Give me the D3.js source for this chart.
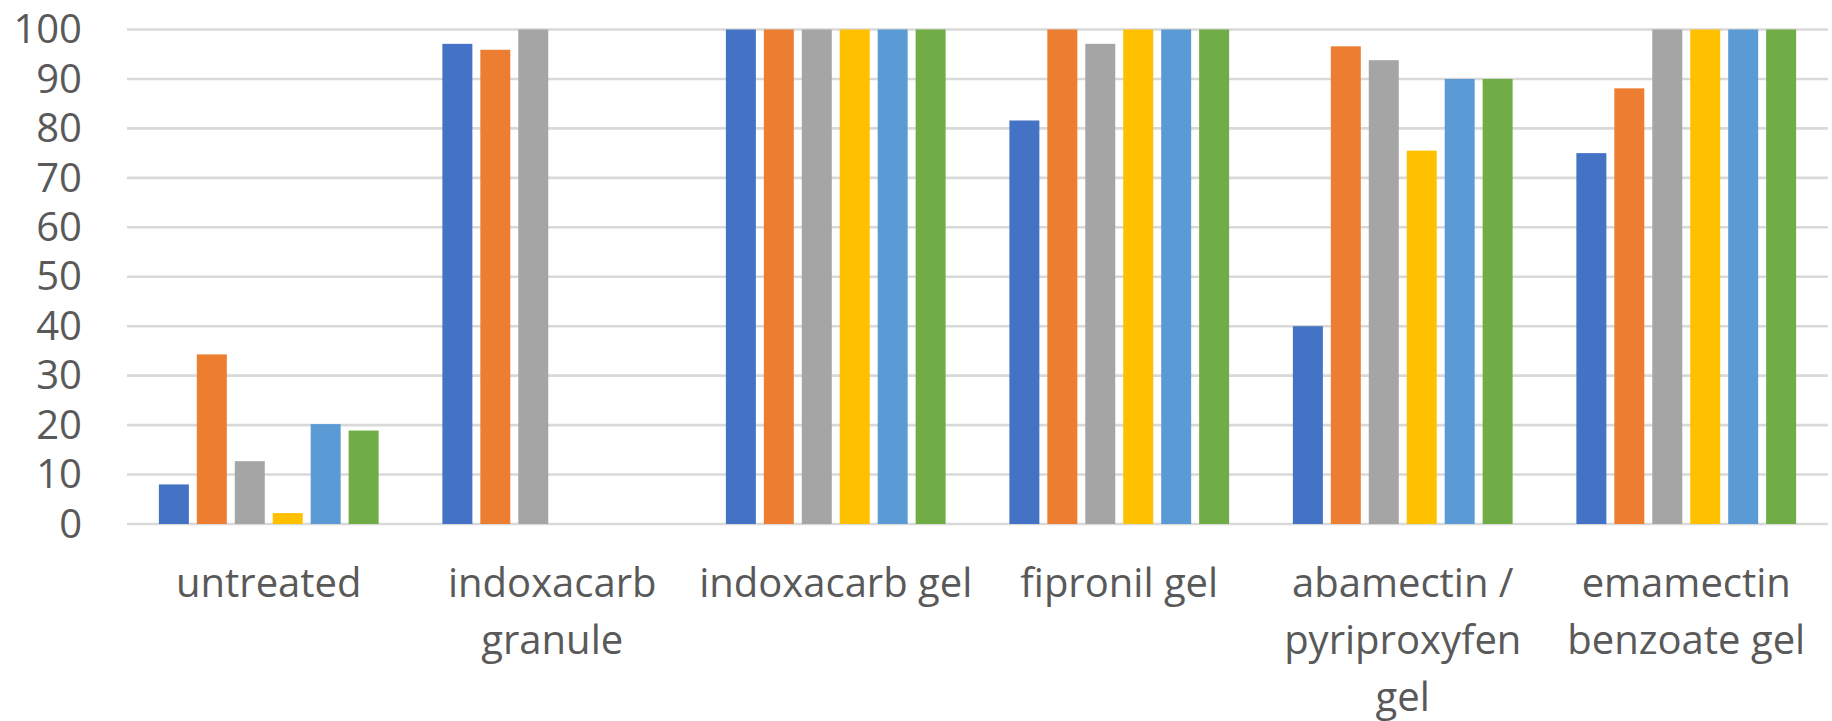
<!DOCTYPE html>
<html>
<head>
	<meta charset="utf-8">
	<title>Bar chart</title>
	<style type="text/css">
		body {
			margin: 0;
			background: #ffffff;
		}
		#chart {
			width: 1832px;
			height: 721px;
		}
		.grid line {
			stroke: #d9d9d9;
			stroke-width: 2.6px;
		}
		.axis text {
			font-family: "Open Sans", sans-serif;
			font-size: 40px;
			fill: #595959;
		}
	</style>
</head>
<body>
	<div id="chart"></div>
	<script src="https://d3js.org/d3.v7.min.js"></script>
	<script type="text/javascript">

// categories on the x axis
var categories = ["untreated", "indoxacarb granule", "indoxacarb gel",
                  "fipronil gel", "abamectin / pyriproxyfen gel", "emamectin benzoate gel"];

// six series, one value per category
var series1 = [8, 97.1, 100, 81.6, 40, 75];
var series2 = [34.3, 95.9, 100, 100, 96.6, 88.1];
var series3 = [12.7, 100, 100, 97.1, 93.8, 100];
var series4 = [2.2, 0, 100, 100, 75.5, 100];
var series5 = [20.2, 0, 100, 100, 90, 100];
var series6 = [18.9, 0, 100, 100, 90, 100];

var yTicks = [0, 10, 20, 30, 40, 50, 60, 70, 80, 90, 100];

var allSeries = [series1, series2, series3, series4, series5, series6];
var colors = ["#4472c4", "#ed7d31", "#a5a5a5", "#ffc000", "#5b9bd5", "#70ad47"];

var width = 1832,
    height = 721;

var plot = { left: 127, right: 1828, top: 29.5, bottom: 524 };

var svg = d3.select("#chart")
	.append("svg")
	.attr("width", width)
	.attr("height", height);

var x0 = d3.scaleBand()
	.domain(categories)
	.range([plot.left, plot.right])
	.paddingInner(0)
	.paddingOuter(0);

var x1 = d3.scaleBand()
	.domain(d3.range(allSeries.length))
	.range([0, x0.bandwidth()])
	.paddingInner(0.21)
	.paddingOuter(0.84);

var y = d3.scaleLinear()
	.domain([0, 100])
	.range([plot.bottom, plot.top]);

// gridlines
svg.append("g")
	.attr("class", "grid")
	.selectAll("line")
	.data(yTicks)
	.enter()
	.append("line")
	.attr("x1", plot.left)
	.attr("x2", plot.right)
	.attr("y1", function(d) { return y(d); })
	.attr("y2", function(d) { return y(d); });

// bars
var groups = svg.append("g")
	.selectAll("g")
	.data(categories)
	.enter()
	.append("g")
	.attr("transform", function(d) { return "translate(" + x0(d) + ",0)"; });

groups.selectAll("rect")
	.data(function(d, i) {
		return allSeries.map(function(s, j) { return { s: j, v: s[i] }; });
	})
	.enter()
	.append("rect")
	.attr("x", function(d) { return x1(d.s); })
	.attr("width", x1.bandwidth())
	.attr("y", function(d) { return y(d.v); })
	.attr("height", function(d) { return y(0) - y(d.v); })
	.attr("fill", function(d) { return colors[d.s]; });

// y axis labels
var yAxis = d3.axisLeft(y)
	.tickValues(yTicks)
	.tickSize(0)
	.tickPadding(0);

svg.append("g")
	.attr("class", "axis")
	.attr("transform", "translate(82,0)")
	.call(yAxis)
	.call(function(g) { g.select(".domain").remove(); })
	.selectAll("text")
	.attr("dy", "0.33em");

// x axis labels, wrapped like the spreadsheet does
var xAxis = d3.axisBottom(x0)
	.tickSize(0)
	.tickPadding(0);

var xg = svg.append("g")
	.attr("class", "axis")
	.attr("transform", "translate(0,0)")
	.call(xAxis)
	.call(function(g) { g.select(".domain").remove(); });

xg.selectAll("text")
	.attr("y", 597)
	.attr("dy", 0)
	.each(function(d) { wrap(d3.select(this), 290); });

function wrap(text, maxWidth) {
	var words = text.text().split(" "),
		lines = [],
		line = [];
	text.text(null);
	var probe = text.append("tspan");
	words.forEach(function(w) {
		line.push(w);
		probe.text(line.join(" "));
		if (probe.node().getComputedTextLength() > maxWidth && line.length > 1) {
			line.pop();
			lines.push(line.join(" "));
			line = [w];
		}
	});
	lines.push(line.join(" "));
	probe.remove();
	lines.forEach(function(l, i) {
		text.append("tspan")
			.attr("x", 0)
			.attr("y", 597 + i * 57)
			.text(l);
	});
}

	</script>
</body>
</html>
